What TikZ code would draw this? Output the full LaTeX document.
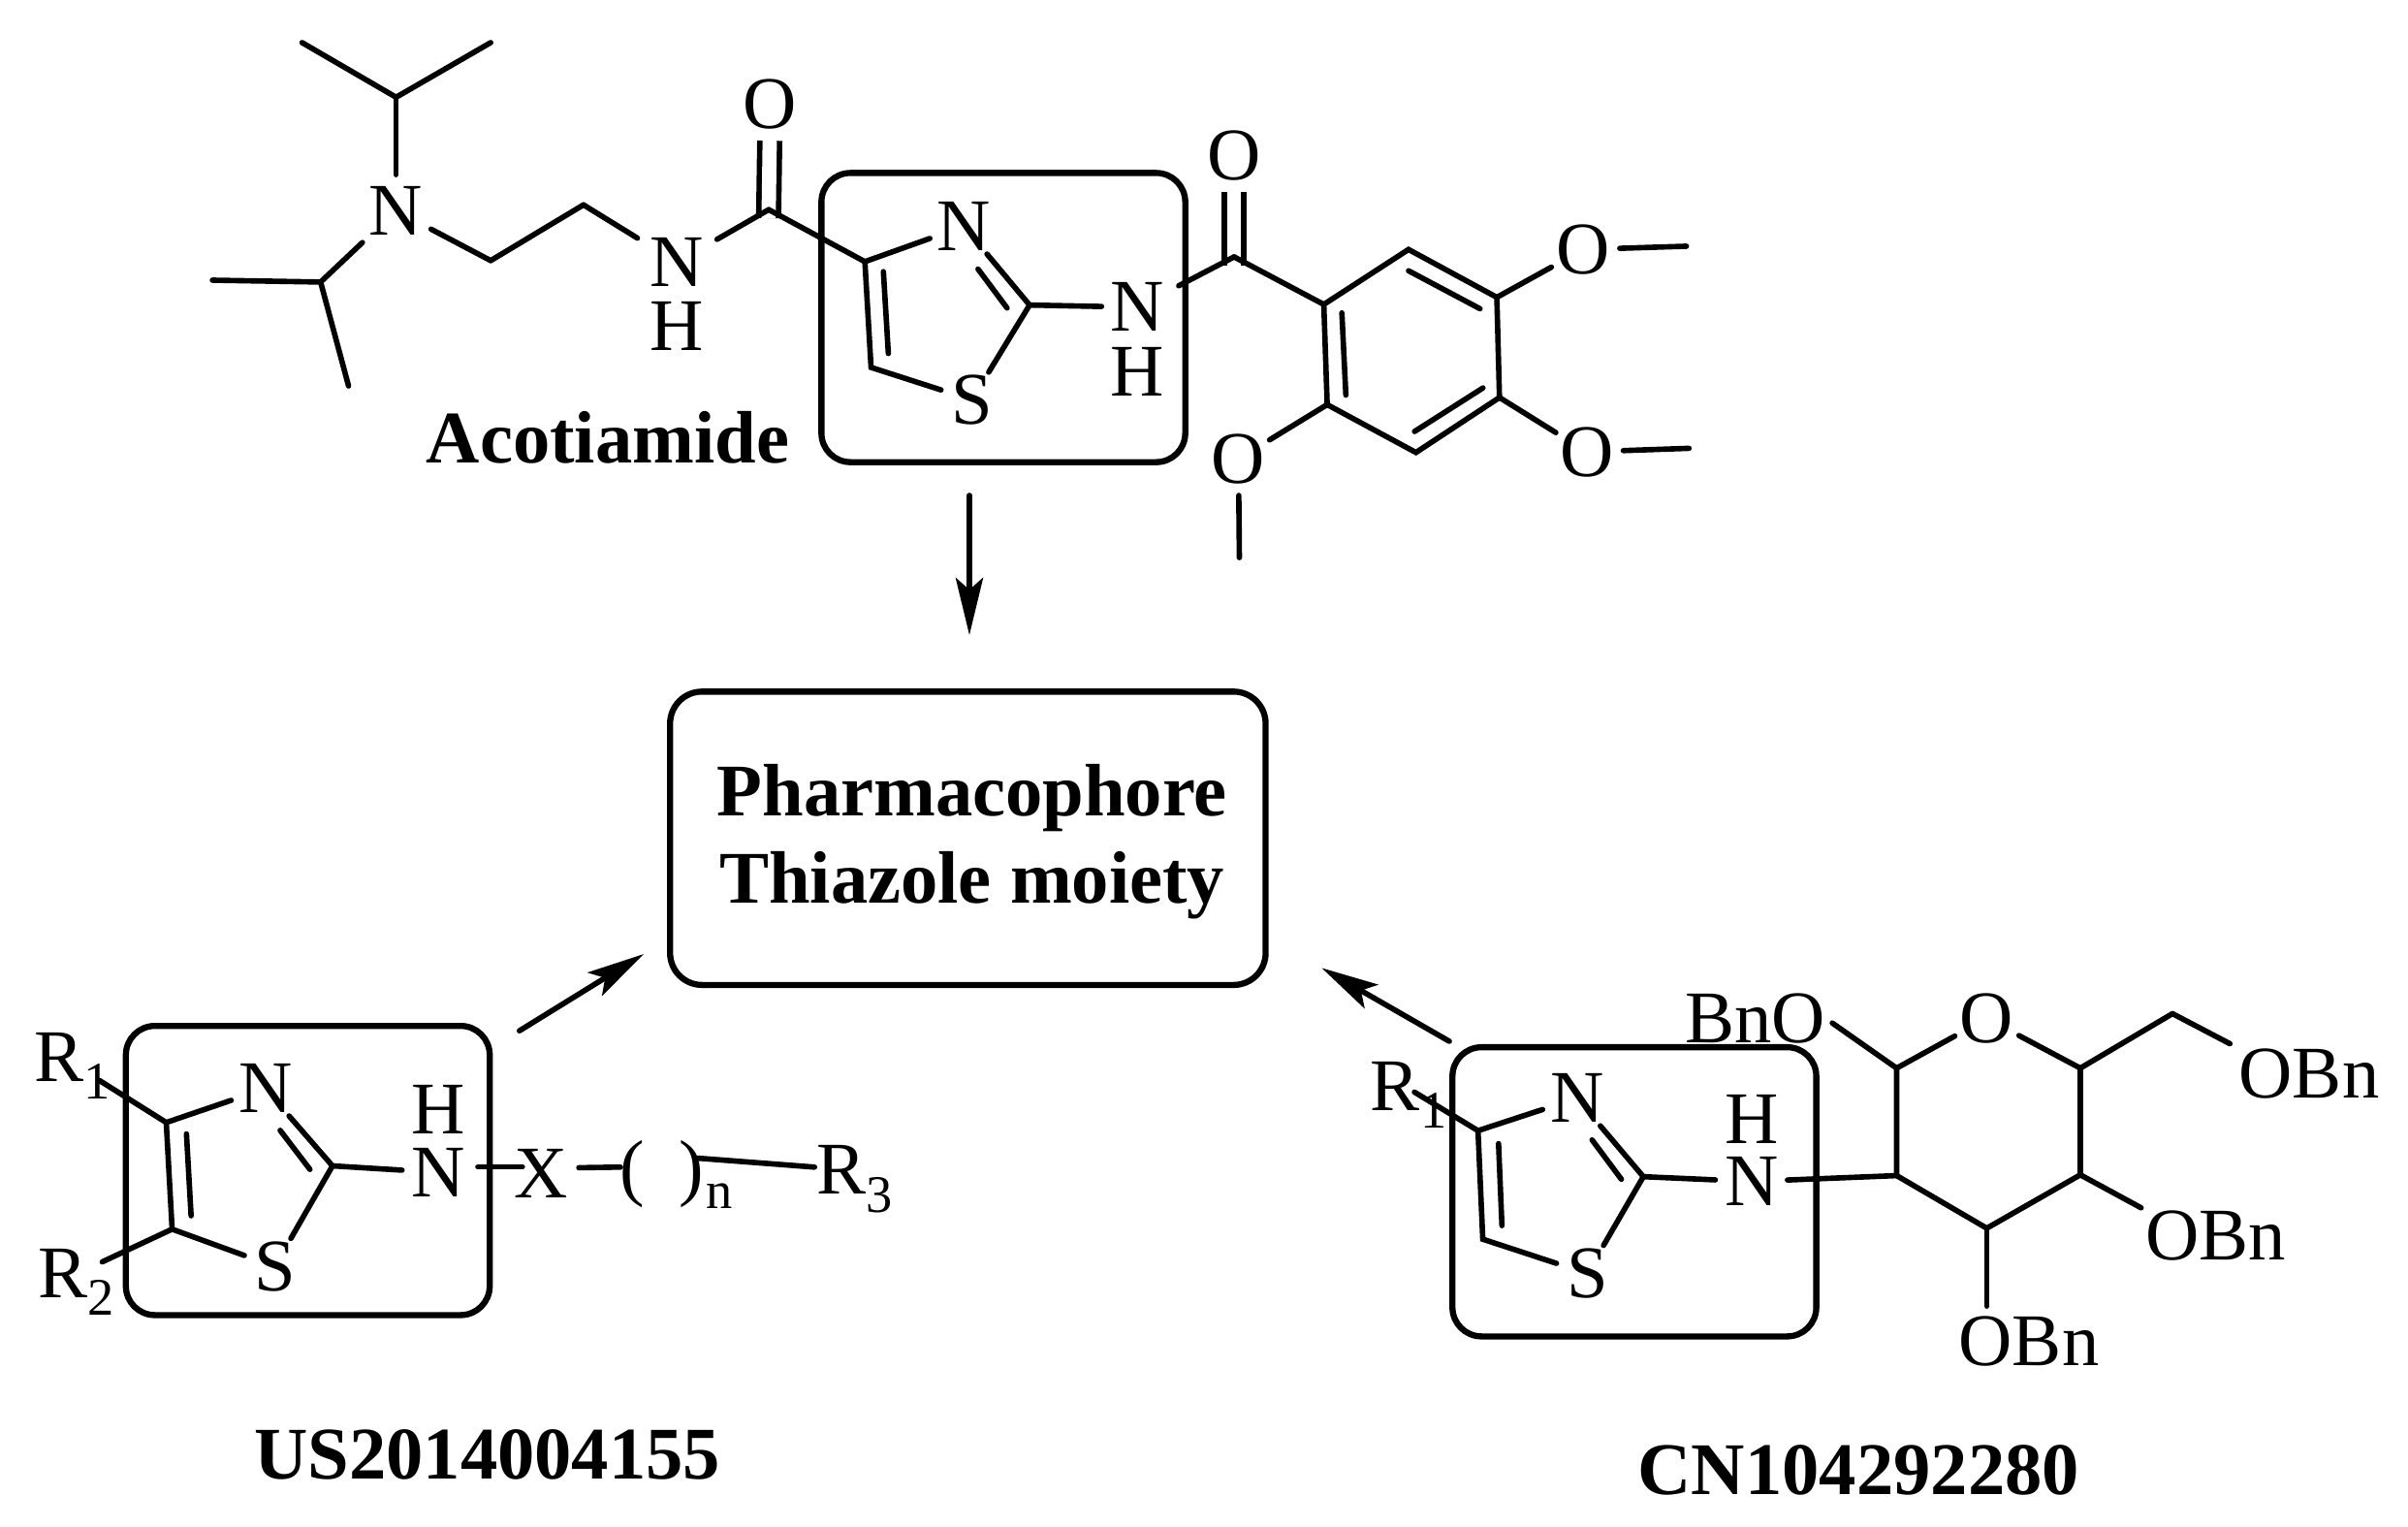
\documentclass[tikz,border=0pt]{standalone}
\usepackage{fontspec}
\setmainfont{Liberation Serif}
\usepackage{tikz}
\usetikzlibrary{arrows.meta}
\newcommand{\subnum}[1]{\raisebox{-0.24em}{\fontsize{15.5}{18}\selectfont #1}}

\begin{document}
\begin{tikzpicture}[x=0.015923cm,y=-0.015923cm,>={Stealth[length=16.8pt,width=8pt,inset=3.5pt]},line width=1.6pt,line cap=round,font=\fontsize{21.8}{25.6}\selectfont,
	atom node/.style={circle,inner sep=0pt,outer sep=0pt},
	text node/.style={inner sep=0pt,outer sep=0pt,anchor=base west},
	title node/.style={inner sep=0pt,outer sep=0pt,anchor=base,font=\fontsize{21.8}{25.6}\selectfont\bfseries},
	hit box/.style={draw,rounded corners=0.3cm,line width=1.8pt,minimum width=3.755cm,minimum height=2.984cm},
	carbonyl/.style={double,double distance=4.2pt,line cap=butt,shorten <=-2.5pt}]

	\useasboundingbox (0,0) rectangle (1560,989.1);

	\node[hit box] (boxA) at (650,205.7) {};
	\node[hit box] (boxB) at (199.4,758.2) {};
	\node[hit box] (boxC) at (1058.8,772) {};
	\node[draw,rounded corners=0.33cm,line width=1.8pt,minimum width=6.146cm,minimum height=3.027cm] (pharma) at (627,543) {};
	\node[inner sep=0pt,align=center,font=\fontsize{21.8}{25.6}\selectfont\bfseries] (pharmaText) at (629.7,545) {Pharmacophore\\Thiazole moiety};

	\node[title node] (acot) at (393.8,299.8) {Acotiamide};
	\node[title node] (usnum) at (315.7,958) {US2014004155};
	\node[title node] (cnnum) at (1204.1,967.8) {CN104292280};

	\coordinate (A1) at (195.7,27.6);
	\coordinate (A2) at (317.9,27.6);
	\coordinate (A3) at (256.6,63);
	\coordinate (A4) at (207.7,182.7);
	\coordinate (A5) at (137.6,181.5);
	\coordinate (A6) at (225.8,250);
	\coordinate (A7) at (317.9,168.8);
	\coordinate (A8) at (378,132.7);
	\coordinate (A9) at (498,135.8);
	\coordinate (A10) at (560.3,169.5);
	\coordinate (A11) at (564.3,238);
	\coordinate (A12) at (667,197.6);
	\coordinate (A13) at (799.5,166.4);
	\node[atom node] (NA) at (256.6,136.5) {N};
	\node[atom node] (NB) at (438.5,170) {N};
	\node[atom node] (HB) at (438.5,211.5) {H};
	\node[atom node] (OA) at (499,67.5) {O};
	\node[atom node] (NC) at (624.4,146.6) {N};
	\node[atom node] (SA) at (629.6,259) {S};
	\node[atom node] (ND) at (737,199) {N};
	\node[atom node] (HD) at (737,241) {H};
	\node[atom node] (OB) at (799.5,100.5) {O};

	\draw[carbonyl] (A9) -- (OA);
	\draw[carbonyl] (A13) -- (OB);
	\draw (A1) -- (A3) -- (A2);
	\draw (A3) -- (NA);
	\draw[shorten <=3pt] (NA) -- (A4);
	\draw (A5) -- (A4) -- (A6);
	\draw[shorten <=1pt] (NA) -- (A7);
	\draw (A7) -- (A8);
	\draw[shorten >=3pt] (A8) -- (NB);
	\draw[shorten <=3pt] (NB) -- (A9);
	\draw (A9) -- (A10) -- (NC);
	\draw (A10) -- (A11) -- (SA);
	\draw (NC) -- (A12) -- (SA);
	\draw (A12) -- (ND);
	\draw[shorten <=3pt] (ND) -- (A13);

	\coordinate (A14) at (572.3,176);
	\coordinate (A15) at (575.5,229);
	\coordinate (A16) at (633.6,174.3);
	\coordinate (A17) at (652.4,199.5);
	\draw (A14) -- (A15);
	\draw (A16) -- (A17);

	\coordinate (P1) at (857.6,197.2);
	\coordinate (P2) at (912.5,161.6);
	\coordinate (P3) at (969.7,192.6);
	\coordinate (P4) at (971.4,257.5);
	\coordinate (P5) at (917.3,293.1);
	\coordinate (P6) at (859.8,262.1);
	\coordinate (P7) at (912.5,175.4);
	\coordinate (P8) at (958.8,200);
	\coordinate (P9) at (960.7,251.3);
	\coordinate (P10) at (916.4,279.5);
	\coordinate (P11) at (869.3,202.7);
	\coordinate (P12) at (871.9,255.9);
	\coordinate (Me1) at (1092.5,159.5);
	\coordinate (Me2) at (1094.2,290.4);
	\coordinate (Me3) at (802.9,361.2);
	\node[atom node] (OC) at (1025.7,161.6) {O};
	\node[atom node] (OD) at (1028,292.7) {O};
	\node[atom node] (OE) at (802.3,297.3) {O};

	\draw (A13) -- (P1);
	\draw (P1) -- (P2) -- (P3) -- (P4) -- (P5) -- (P6) -- cycle;
	\draw (P7) -- (P8);
	\draw (P9) -- (P10);
	\draw (P11) -- (P12);
	\draw (P3) -- (OC);
	\draw (OC) -- (Me1);
	\draw (P4) -- (OD);
	\draw (OD) -- (Me2);
	\draw (P6) -- (OE);
	\draw (OE) -- (Me3);

	\coordinate (dnS) at (628,320.9);
	\coordinate (dnE) at (628,411.4);
	\coordinate (lfS) at (336.5,667.7);
	\coordinate (lfE) at (417,618);
	\coordinate (rgS) at (938.9,674.5);
	\coordinate (rgE) at (856.2,627);
	\draw[->] (dnS) -- (dnE);
	\draw[->] (lfS) -- (lfE);
	\draw[->] (rgS) -- (rgE);

	\coordinate (B1) at (64.6,700);
	\coordinate (B2) at (107.7,727.1);
	\coordinate (B3) at (111.5,796.2);
	\coordinate (B4) at (66.2,817.4);
	\coordinate (B5) at (215.4,755.2);
	\coordinate (B6) at (120.8,734.5);
	\coordinate (B7) at (123.8,787.5);
	\coordinate (B8) at (181.5,732.2);
	\coordinate (B9) at (200.8,757.5);
	\coordinate (B10) at (309.6,755.9);
	\coordinate (B11) at (338.4,755.9);
	\coordinate (B12) at (375,756.4);
	\coordinate (B13) at (401.9,756);
	\coordinate (B14) at (451.9,750.2);
	\coordinate (B15) at (527.7,756);
	\node[text node] (RA) at (22.3,700.6) {R\subnum{1}};
	\node[text node] (RB) at (25,840.4) {R\subnum{2}};
	\node[text node] (RC) at (528.8,773.6) {R\subnum{3}};
	\node[atom node] (NE) at (171.9,705.2) {N};
	\node[atom node] (SB) at (178,820.4) {S};
	\node[atom node] (NF) at (283.8,759.4) {N};
	\node[atom node] (HF) at (283.8,718.4) {H};
	\node[atom node] (XA) at (350.8,760) {X};
	\node[inner sep=0pt] (parL) at (409.5,760.5) {(};
	\node[inner sep=0pt] (parR) at (448,760.5) {)};
	\node[text node,font=\fontsize{15.5}{18}\selectfont] (nsub) at (457.7,782.9) {n};

	\draw (B1) -- (B2) -- (NE);
	\draw (B2) -- (B3) -- (SB);
	\draw (B3) -- (B4);
	\draw (NE) -- (B5) -- (SB);
	\draw (B5) -- (NF);
	\draw (B6) -- (B7);
	\draw (B8) -- (B9);
	\draw (B10) -- (B11);
	\draw (B12) -- (B13);
	\draw (B14) -- (B15);

	\coordinate (C1) at (916.3,707.4);
	\coordinate (C2) at (957.5,732.4);
	\coordinate (C3) at (960.6,802.7);
	\coordinate (C4) at (1064.6,762.2);
	\coordinate (C5) at (970.8,740.8);
	\coordinate (C6) at (973,793.9);
	\coordinate (C7) at (1031.4,738.4);
	\coordinate (C8) at (1050.4,763.9);
	\coordinate (D1) at (1228.7,691.9);
	\coordinate (D2) at (1228.7,761.5);
	\coordinate (D3) at (1287.1,795.6);
	\coordinate (D4) at (1347.7,761);
	\coordinate (D5) at (1347.7,691.9);
	\coordinate (D6) at (1407.4,656.6);
	\node[text node] (RD) at (888,719.3) {R\subnum{1}};
	\node[atom node] (NG) at (1021.6,711.4) {N};
	\node[atom node] (SC) at (1028.3,824.9) {S};
	\node[atom node] (NH) at (1134.6,765.3) {N};
	\node[atom node] (HH) at (1134.6,724.8) {H};
	\node[atom node] (OF) at (1287.1,659.7) {O};
	\node[text node,anchor=base east] (BnOa) at (1182.5,675.2) {BnO};
	\node[text node] (OBnA) at (1450.5,711) {OBn};
	\node[text node] (OBnB) at (1390,815.8) {OBn};
	\node[text node] (OBnC) at (1269,884.5) {OBn};

	\draw (C1) -- (C2) -- (NG);
	\draw (C2) -- (C3) -- (SC);
	\draw (NG) -- (C4) -- (SC);
	\draw (C4) -- (NH);
	\draw (NH) -- (D2);
	\draw (C5) -- (C6);
	\draw (C7) -- (C8);
	\draw (OF) -- (D1) -- (D2) -- (D3) -- (D4) -- (D5) -- (OF);
	\draw[shorten >=2.5pt] (D1) -- (BnOa.east);
	\draw (D5) -- (D6);
	\draw[shorten >=3pt] (D6) -- (OBnA.north west);
	\draw[shorten >=1.5pt] (D4) -- (OBnB.north west);
	\draw[shorten >=3pt] (D3) -- (D3 |- OBnC.north);
\end{tikzpicture}
\end{document}
